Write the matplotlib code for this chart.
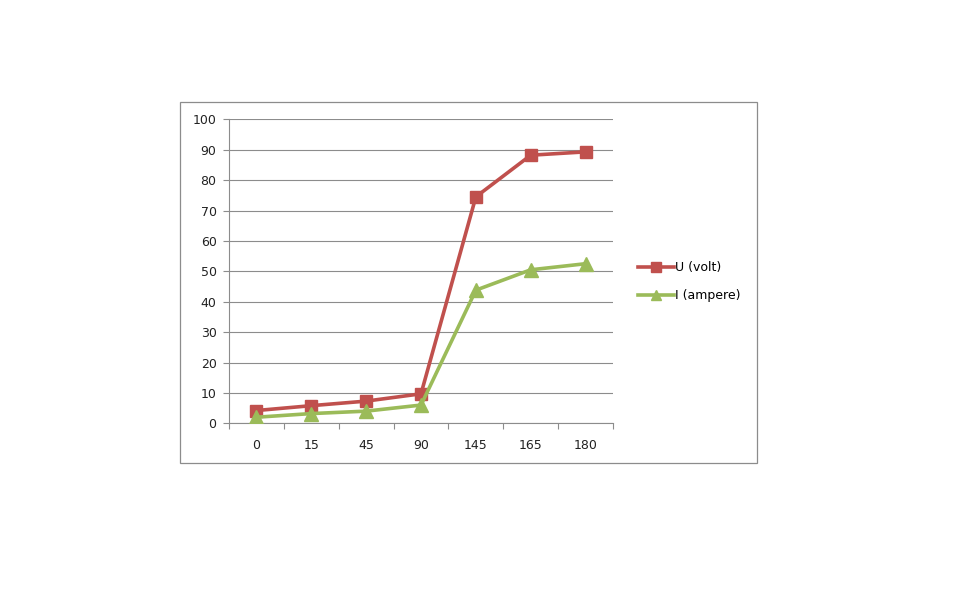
import matplotlib
matplotlib.use('Agg')
import matplotlib.pyplot as plt
from matplotlib.patches import Rectangle

# data
angles = ['0', '15', '45', '90', '145', '165', '180']
u_volt = [4.2, 5.8, 7.3, 9.7, 74.5, 88.2, 89.3]
i_ampere = [2.0, 3.2, 4.0, 6.0, 43.8, 50.5, 52.5]

plt.rcParams['font.family'] = ['DejaVu Sans']

fig = plt.figure(figsize=(9.8, 6.11), dpi=100)
fig.patch.set_facecolor('white')

# outer chart frame
fig.patches.append(Rectangle((0.1837, 0.2422), 0.5888, 0.5908, transform=fig.transFigure,
                             fill=False, edgecolor='#8c8c8c', linewidth=0.9))

ax = fig.add_axes([0.2337, 0.3072, 0.3918, 0.4975])
x = range(len(angles))

ax.plot(x, u_volt, color='#C0504D', linewidth=2.6, marker='s', markersize=8.5,
        markeredgecolor='#C0504D', label='U (volt)', zorder=3)
ax.plot(x, i_ampere, color='#9BBB59', linewidth=2.6, marker='^', markersize=9.5,
        markeredgecolor='#9BBB59', label='I (ampere)', zorder=3)

ax.set_xlim(-0.5, len(angles) - 0.5)
ax.set_ylim(0, 100)
ax.set_yticks(range(0, 101, 10))
ax.set_xticks(list(x))
ax.set_xticklabels(angles)
ax.set_xticks([i - 0.5 for i in range(len(angles) + 1)], minor=True)

ax.grid(axis='y', color='#8c8c8c', linewidth=0.8)
ax.set_axisbelow(True)
for side in ['top', 'right']:
    ax.spines[side].set_visible(False)
for side in ['left', 'bottom']:
    ax.spines[side].set_color('#8c8c8c')
    ax.spines[side].set_linewidth(0.8)

ax.tick_params(axis='x', which='major', length=0, pad=11, labelsize=9, labelcolor='#222222')
ax.tick_params(axis='x', which='minor', length=4, color='#8c8c8c', width=0.8)
ax.tick_params(axis='y', length=4, color='#8c8c8c', width=0.8, pad=5, labelsize=9,
               labelcolor='#222222')

ax.legend(loc='center left', bbox_to_anchor=(1.035, 0.465), frameon=False, fontsize=9,
          handlelength=2.9, handletextpad=0.1, labelspacing=1.2, markerscale=0.8)

fig.savefig('out.png', dpi=100, facecolor='white')
